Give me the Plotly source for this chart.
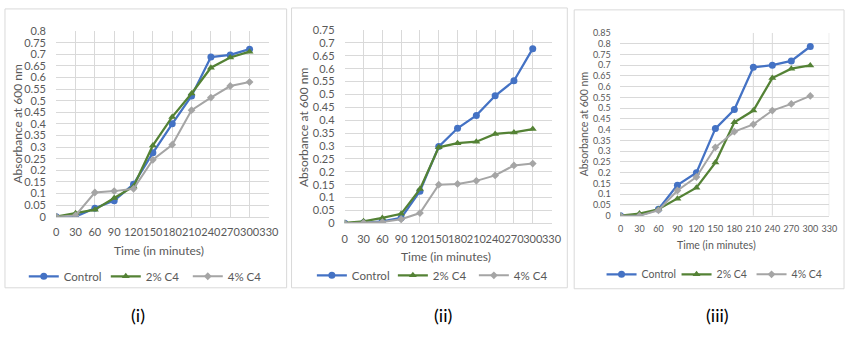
import plotly.graph_objects as go

W, H = 857, 339

TIME = [0, 30, 60, 90, 120, 150, 180, 210, 240, 270, 300]
SERIES_NAMES = ["Control", "2% C4", "4% C4"]

I_CONTROL = [0, 0, 0.036, 0.069, 0.14, 0.275, 0.40, 0.52, 0.688, 0.697, 0.722]
I_C2 = [0, 0.015, 0.03, 0.08, 0.13, 0.307, 0.43, 0.531, 0.642, 0.686, 0.711]
I_C4 = [0, 0.005, 0.104, 0.11, 0.12, 0.245, 0.31, 0.459, 0.513, 0.563, 0.58]

II_CONTROL = [0, 0.002, 0.008, 0.021, 0.125, 0.298, 0.369, 0.419, 0.495, 0.553, 0.678]
II_C2 = [0.002, 0.008, 0.021, 0.037, 0.133, 0.295, 0.311, 0.317, 0.347, 0.353, 0.366]
II_C4 = [0, 0.002, 0.005, 0.016, 0.04, 0.15, 0.153, 0.165, 0.186, 0.225, 0.232]

III_CONTROL = [0, 0, 0.03, 0.142, 0.2, 0.405, 0.494, 0.69, 0.70, 0.72, 0.787]
III_C2 = [0, 0.01, 0.03, 0.079, 0.13, 0.247, 0.435, 0.489, 0.64, 0.684, 0.699]
III_C4 = [0, 0, 0.025, 0.117, 0.18, 0.318, 0.391, 0.425, 0.489, 0.52, 0.557]

X_TICKS = [0, 30, 60, 90, 120, 150, 180, 210, 240, 270, 300, 330]
Y_MAX = [0.8, 0.75, 0.85]
PANEL_LABELS = ["(i)", "(ii)", "(iii)"]
X_TITLE = "Time (in minutes)"
Y_TITLE = "Absorbance at 600 nm"
GRID_III = [210, 240, 330]

PANELS = [
    [I_CONTROL, I_C2, I_C4],
    [II_CONTROL, II_C2, II_C4],
    [III_CONTROL, III_C2, III_C4],
]

COLORS = ["#4472C4", "#548235", "#A5A5A5"]
SYMBOLS = ["circle", "triangle-up", "diamond"]
MSIZES = [7, 7, 6]
FONT = "Lato, 'Liberation Sans', sans-serif"
GRAY = "#595959"
GRID = "#d9d9d9"

# layout geometry in pixels (left, right, top, bottom of plot area)
PLOT_PX = [(54, 270, 25, 218), (347, 557, 24, 225), (627, 839, 27, 217)]
BOX_PX = [(2, 288, 2, 292), (293, 573, 1, 292), (580, 854, 3, 293)]
XTITLE_PX = [(158, 253), (450, 259), (724, 248)]
YTITLE_PX = [15, 305, 590]
LEGEND_PX = [(146, 280), (437, 279), (722, 278)]
LABEL_PX = [(137, 320), (447, 320), (726, 320)]
TICK_FS = [11, 11, 9]
TITLE_FS = [12, 12, 10.5]
LEG_FS = [11.5, 11.5, 10.5]
ENTRY_W = [37, 36, 30]


def fx(px):
    return px / W


def fy(py):
    return 1 - py / H


fig = go.Figure()
layout = dict(
    width=W, height=H, margin=dict(l=0, r=0, t=0, b=0),
    paper_bgcolor="white", plot_bgcolor="white",
    font=dict(family=FONT, color=GRAY, size=11),
    shapes=[], annotations=[],
)

for k, series in enumerate(PANELS):
    n = "" if k == 0 else str(k + 1)
    leg = "legend" + n
    for s, (name, vals) in enumerate(zip(SERIES_NAMES, series)):
        fig.add_trace(go.Scatter(
            x=TIME, y=vals, name=name, mode="lines+markers",
            xaxis="x" + n, yaxis="y" + n, legend=leg,
            line=dict(color=COLORS[s], width=2.25 if s < 2 else 2),
            marker=dict(symbol=SYMBOLS[s], size=MSIZES[s], color=COLORS[s]),
        ))
    l, r, t, b = PLOT_PX[k]
    yticks = [round(i * 0.05, 2) for i in range(int(round(Y_MAX[k] / 0.05)) + 1)]
    layout["xaxis" + n] = dict(
        domain=[fx(l), fx(r)], anchor="y" + n, range=[0, 330],
        tickvals=X_TICKS, ticktext=[str(v) for v in X_TICKS], tickangle=0,
        showgrid=(k != 2), gridcolor=GRID, gridwidth=1, zeroline=False,
        showline=True, linecolor=GRID, linewidth=1,
        ticks="outside", ticklen=5, tickcolor="rgba(0,0,0,0)",
        tickfont=dict(size=TICK_FS[k], color=GRAY, family=FONT), fixedrange=True,
    )
    layout["yaxis" + n] = dict(
        domain=[fy(b), fy(t)], anchor="x" + n, range=[0, Y_MAX[k]],
        tickvals=yticks, ticktext=[f"{v:g}" for v in yticks],
        showgrid=True, gridcolor=GRID, gridwidth=1, zeroline=False,
        showline=False,
        ticks="outside", ticklen=7, tickcolor="rgba(0,0,0,0)",
        tickfont=dict(size=TICK_FS[k], color=GRAY, family=FONT), fixedrange=True,
    )
    lx, ly = LEGEND_PX[k]
    layout[leg] = dict(
        orientation="h", x=fx(lx), y=fy(ly), xanchor="center", yanchor="middle",
        font=dict(size=LEG_FS[k], color=GRAY, family=FONT), bgcolor="rgba(0,0,0,0)",
        entrywidth=ENTRY_W[k], entrywidthmode="pixels", itemclick=False,
    )
    bl, br, bt, bb = BOX_PX[k]
    layout["shapes"].append(dict(
        type="rect", xref="paper", yref="paper",
        x0=fx(bl), x1=fx(br), y0=fy(bb), y1=fy(bt),
        line=dict(color=GRID, width=1), layer="below",
    ))
    tx, ty = XTITLE_PX[k]
    layout["annotations"].append(dict(
        text=X_TITLE, xref="paper", yref="paper", x=fx(tx), y=fy(ty),
        xanchor="center", yanchor="middle", showarrow=False,
        font=dict(size=TITLE_FS[k], color=GRAY, family=FONT),
    ))
    layout["annotations"].append(dict(
        text=Y_TITLE, xref="paper", yref="paper", x=fx(YTITLE_PX[k]),
        y=fy((t + b) / 2), xanchor="center", yanchor="middle",
        textangle=-90, showarrow=False,
        font=dict(size=TITLE_FS[k], color=GRAY, family=FONT),
    ))
    px_, py_ = LABEL_PX[k]
    layout["annotations"].append(dict(
        text=PANEL_LABELS[k], xref="paper", yref="paper", x=fx(px_), y=fy(py_),
        xanchor="center", yanchor="middle", showarrow=False,
        font=dict(size=18, color="black", family=FONT),
    ))

# panel (iii) only shows a few vertical gridlines
for gx in GRID_III:
    layout["shapes"].append(dict(
        type="line", xref="x3", yref="y3 domain", x0=gx, x1=gx, y0=0, y1=1,
        line=dict(color=GRID, width=1), layer="below",
    ))

fig.update_layout(**layout)
fig.write_html("out.html")
